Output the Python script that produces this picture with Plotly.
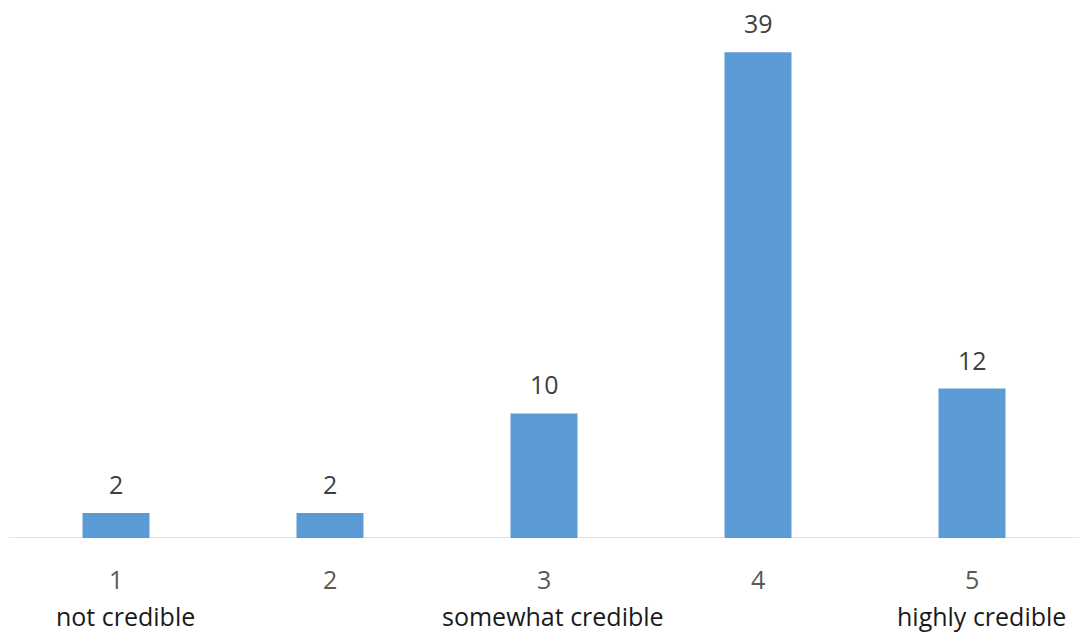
import plotly.graph_objects as go

categories = ["1", "2", "3", "4", "5"]
values = [2, 2, 10, 39, 12]
sublabels = ["not credible", "", "somewhat credible", "", "highly credible"]

FONT = "Open Sans"
FS = 25

fig = go.Figure()
fig.add_trace(go.Bar(
    x=categories, y=values,
    marker=dict(color="#5B9BD5", line=dict(width=0)),
    width=0.313,
    hoverinfo="skip",
))

annotations = []
for i, (c, v) in enumerate(zip(categories, values)):
    annotations.append(dict(x=i, y=v, xref="x", yref="y", text=str(v),
                            showarrow=False, yanchor="bottom", yshift=10,
                            font=dict(family=FONT, size=FS, color="#404040")))
for i, (c, s) in enumerate(zip(categories, sublabels)):
    annotations.append(dict(x=i, y=0, xref="x", yref="y", text=c,
                            showarrow=False, yanchor="middle", yshift=-41,
                            font=dict(family=FONT, size=FS, color="#595959")))
    if s:
        annotations.append(dict(x=i, y=0, xref="x", yref="y", text=s,
                                showarrow=False, yanchor="middle", yshift=-78, xshift=9,
                                borderpad=0,
                                font=dict(family=FONT, size=FS, color="#1a1a1a")))

fig.update_layout(
    width=1079, height=632,
    margin=dict(l=9, r=0, t=0, b=94),
    paper_bgcolor="white", plot_bgcolor="white",
    showlegend=False,
    annotations=annotations,
)
fig.update_xaxes(type="category", range=[-0.5, 4.5], showticklabels=False, showgrid=False,
                 zeroline=False, showline=False, ticks="")
fig.update_yaxes(range=[0, 43.2], showticklabels=False, showgrid=False, zeroline=False,
                 showline=False, ticks="")
fig.add_shape(type="line", xref="paper", yref="y", x0=0, x1=1, y0=0, y1=0,
              line=dict(color="#d9d9d9", width=1.5), layer="below")

fig.write_html("out.html")
